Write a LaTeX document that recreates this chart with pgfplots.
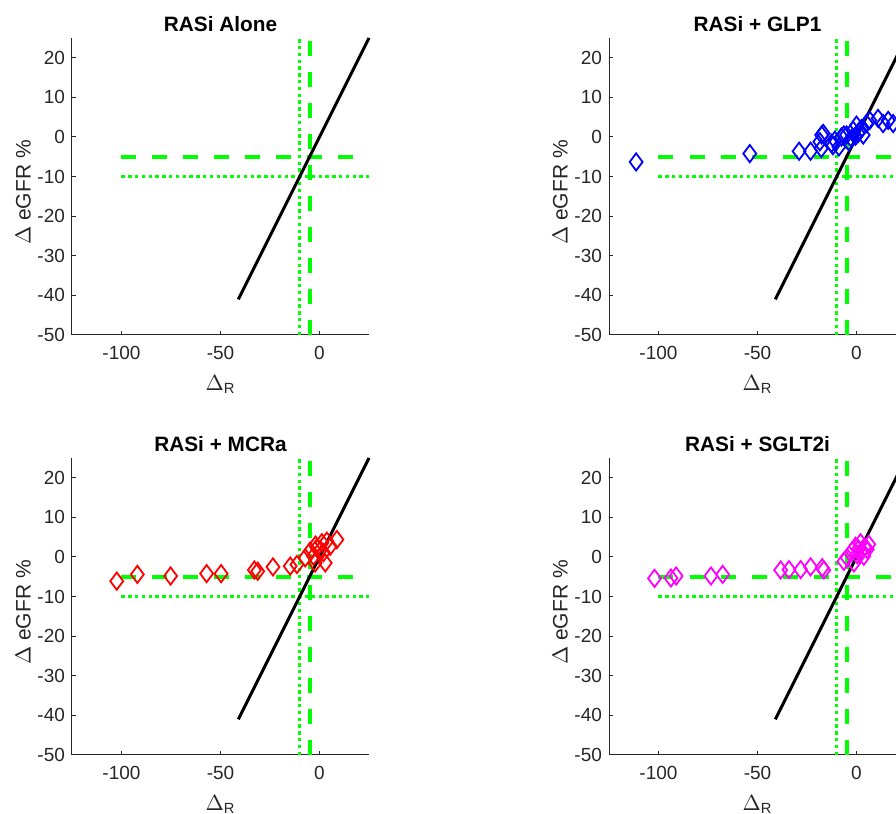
\documentclass[border=0pt]{standalone}
\usepackage{fontspec}
\setmainfont{Liberation Sans}
\usepackage{pgfplots}
\pgfplotsset{compat=1.18}

\definecolor{mgreen}{rgb}{0,1,0}
\definecolor{axgray}{rgb}{0.15,0.15,0.15}
\definecolor{mblue}{rgb}{0,0,1}
\definecolor{mred}{rgb}{1,0,0}
\definecolor{mmag}{rgb}{1,0,1}

\pgfplotsset{
  panel/.style={
    scale only axis, width=148.5pt, height=148.5pt,
    anchor=south west,
    xmin=-125, xmax=25, ymin=-50, ymax=25,
    xtick={-100,-50,0}, ytick={-50,-40,...,20},
    axis lines*=left, tick pos=left, tick align=inside,
    major tick length=2pt,
    axis line style={axgray, line width=0.5pt},
    every tick/.style={axgray, line width=0.5pt},
    tick label style={font=\fontsize{9.5}{11}\selectfont, text=axgray},
    xticklabel style={yshift=-2pt},
    /pgf/number format/assume math mode=true,
    label style={font=\fontsize{10.5}{12}\selectfont, text=axgray},
    xlabel style={yshift=-1pt},
    ylabel style={yshift=-3.5pt, xshift=-3pt},
    title style={font=\bfseries\fontsize{10.4}{12}\selectfont, yshift=-6.5pt},
    xlabel={$\Delta$\textsubscript{R}},
    ylabel={$\Delta$ eGFR \%},
    clip=false,
  },
  gdash/.style={mgreen, line width=2pt, dash pattern=on 7.5pt off 8pt},
  gdot/.style={mgreen, line width=1.8pt, dash pattern=on 1.7pt off 1.7pt},
  pts/.style={only marks, mark=diamond, mark size=4.3pt, mark options={line width=0.9pt}},
}

\newcommand{\guides}{%
  \addplot[gdot] coordinates {(-10,-50) (-10,25)};
  \addplot[gdash] coordinates {(-5,-50) (-5,25)};
  \addplot[gdash] coordinates {(-100,-5) (25,-5)};
  \addplot[gdot] coordinates {(-100,-10) (25,-10)};
  \addplot[black, line width=1.5pt] coordinates {(-41,-41) (25,25)};
}

\begin{document}
\begin{tikzpicture}

\begin{axis}[panel, at={(36pt,239.5pt)}, title={RASi Alone}]
\guides
\end{axis}

\begin{axis}[panel, at={(304.5pt,239.5pt)}, title={RASi + GLP1}]
\guides
\addplot[pts, mblue] coordinates {
(-111.3,-6.3) (-53.9,-4.2) (-29,-3.6) (-23.2,-3.6) (-17.8,-2.9) (-16.8,0.9)
(-18.5,-1.2) (-17.6,0.5) (-12.6,-1.6) (-11.9,-2.2) (-10.9,-0.8) (-8.9,-2.5)
(-7.6,0) (-6.4,0.5) (-5,0.5) (-3.9,-1.2) (-2.5,-0.4) (-1.7,1.7) (0,3)
(0.8,0.9) (2.5,2.1) (3.4,0.5) (5,3.4) (6.7,4.2) (1.5,1.5) (-0.5,0.2)
(10.9,4.7) (13.4,3.4) (16,4.2) (18.5,3.4)
};
\end{axis}

\begin{axis}[panel, at={(36pt,29.5pt)}, title={RASi + MCRa}]
\guides
\addplot[pts, mred] coordinates {
(-102.4,-6.1) (-92,-4.4) (-75.2,-4.8) (-57,-4.2) (-49.7,-4.2) (-32.9,-3.3)
(-31.2,-3.6) (-23.5,-2.5) (-14.8,-2.3) (-11.4,-1.9) (-7.2,-0.2) (-2.2,-1.5)
(2.9,-1.5) (-1.3,2.3) (-4.7,1.5) (1.2,3.6) (3.7,4) (5.4,2.7) (2,1.1)
(-3,0.2) (0,1.5) (-2,3) (8.8,4.4)
};
\end{axis}

\begin{axis}[panel, at={(304.5pt,29.5pt)}, title={RASi + SGLT2i}]
\guides
\addplot[pts, mmag] coordinates {
(-102,-5.4) (-93.7,-5.3) (-91.1,-4.8) (-73.5,-4.8) (-67.6,-4.4) (-38.3,-3.3)
(-34.1,-3.2) (-28.2,-3.2) (-23.2,-2.5) (-17.3,-2.7) (-16.5,-3.3) (-6.4,-1.1)
(-4.7,-0.2) (-1.3,-1.5) (-0.5,2.7) (2,3.6) (5.4,1.9) (3.7,0.2) (0.3,0.6)
(-2.2,1.5) (2.9,1.5) (6.2,3.2) (1,2) (4,2.5)
};
\end{axis}

\pgfresetboundingbox
\path[use as bounding box] (0,0) rectangle (448pt,407pt);
\end{tikzpicture}
\end{document}
